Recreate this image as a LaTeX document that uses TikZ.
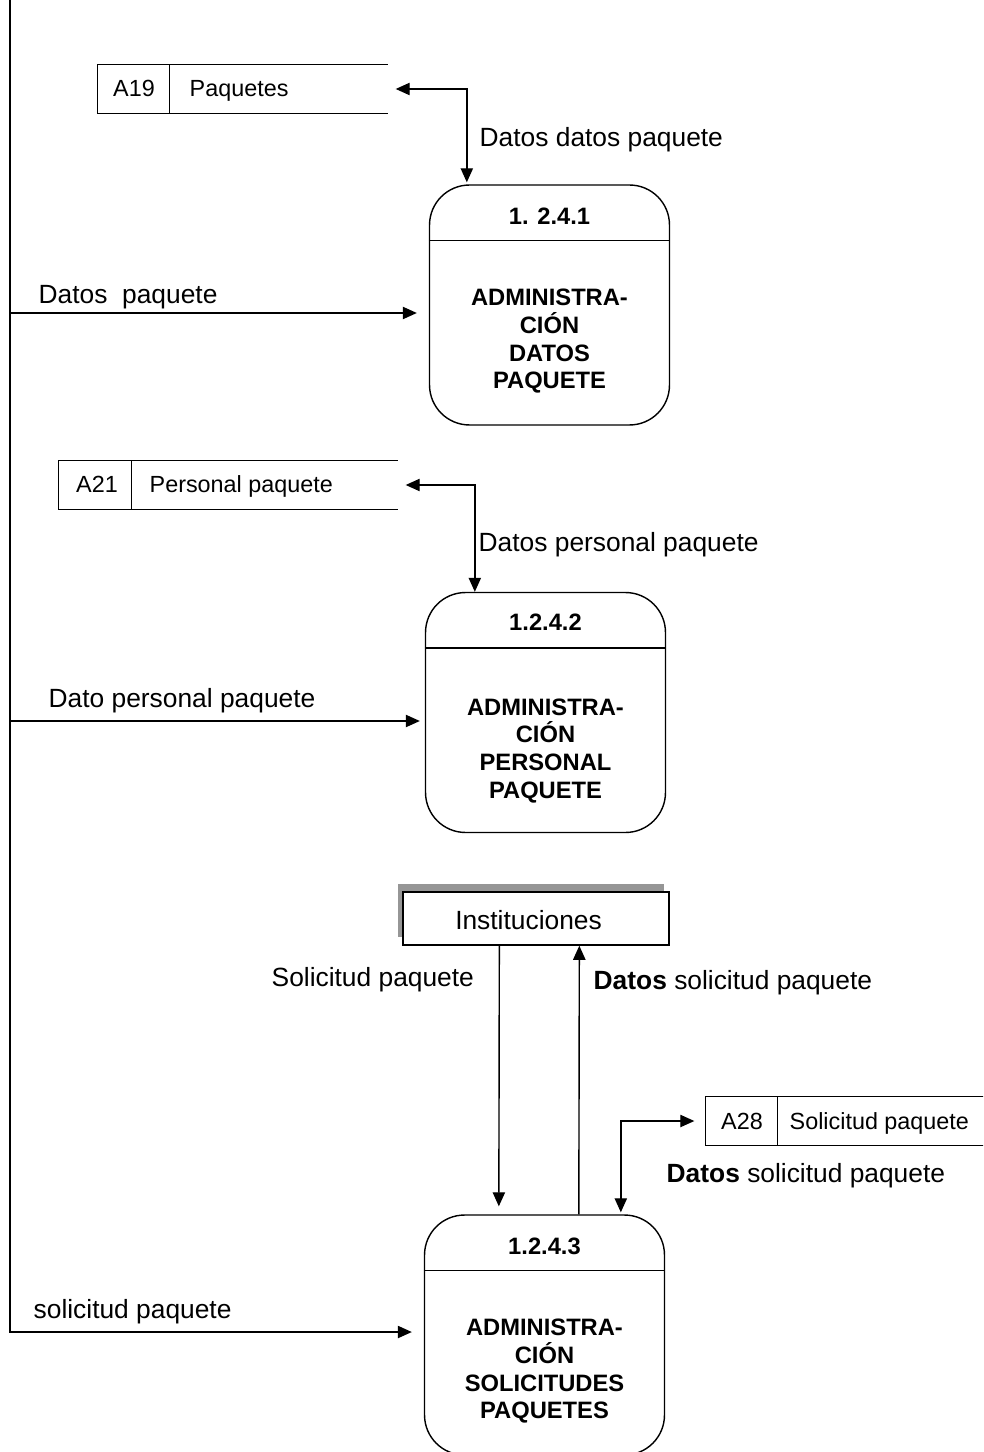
\documentclass[tikz,border=0pt]{standalone}
\usepackage{fontspec}
\setmainfont{Liberation Sans}
\usetikzlibrary{arrows.meta,calc,shadows}
\definecolor{shadegray}{RGB}{150,150,150}
\begin{document}
\begin{tikzpicture}[x=0.02cm,y=-0.02cm,
  line width=0.8pt,
  tip/.style={-{Triangle[length=8pt,width=7pt]}},
  tips/.style={{Triangle[length=8pt,width=7pt]}-{Triangle[length=8pt,width=7pt]}},
  proc/.style={draw,rounded corners=0.8cm,minimum width=4.8cm,minimum height=4.8cm,inner sep=0pt},
  ptitle/.style={font=\fontsize{13.5}{15.7}\selectfont\bfseries,inner sep=0pt},
  pbody/.style={font=\fontsize{13.5}{15.7}\selectfont\bfseries,align=center,inner sep=0pt},
  lbl/.style={font=\fontsize{15}{18}\selectfont,anchor=base west,inner sep=0pt},
  store/.style={minimum height=0.96cm,inner sep=0pt},
  stxt/.style={font=\fontsize{13.3}{16}\selectfont,inner sep=0pt},
  entity/.style={draw,fill=white,minimum width=5.32cm,minimum height=1.06cm,inner sep=0pt,
    general shadow={shadow xshift=-0.1cm,shadow yshift=0.16cm,fill=shadegray}},
]
\useasboundingbox (0,0) rectangle (983,1452);
\clip (0,0) rectangle (983,1452);

% ---------- processes ----------
\node[proc] (p1) at (549.5,305) {};
\draw ($(p1.north west)+(0,56)$) -- ($(p1.north east)+(0,56)$);
\node[ptitle] (t1) at ($(p1.north)+(0,32)$) {1. 2.4.1};
\node[pbody] (b1) at ($(p1.north)+(0,157)$) {ADMINISTRA-\\CIÓN\\DATOS\\PAQUETE};

\node[proc] (p2) at (545.5,712.5) {};
\draw ($(p2.north west)+(0,56)$) -- ($(p2.north east)+(0,56)$);
\node[ptitle] (t2) at ($(p2.north)+(0,30)$) {1.2.4.2};
\node[pbody] (b2) at ($(p2.north)+(0,159)$) {ADMINISTRA-\\CIÓN\\PERSONAL\\PAQUETE};

\node[proc] (p3) at (544.5,1335) {};
\draw ($(p3.north west)+(0,56)$) -- ($(p3.north east)+(0,56)$);
\node[ptitle] (t3) at ($(p3.north)+(0,32)$) {1.2.4.3};
\node[pbody] (b3) at ($(p3.north)+(0,157)$) {ADMINISTRA-\\CIÓN\\SOLICITUDES\\PAQUETES};

% ---------- data stores ----------
\node[store,minimum width=5.78cm] (s19) at (242.5,89) {};
\draw (s19.north east) -- (s19.north west) -- (s19.south west) -- (s19.south east);
\draw ($(s19.north west)+(72,0)$) -- ($(s19.south west)+(72,0)$);
\node[stxt,anchor=base] (s19id) at (134,97) {A19};
\node[stxt,anchor=base west] (s19n) at (189,97) {Paquetes};

\node[store,minimum width=6.76cm] (s21) at (228,485) {};
\draw (s21.north east) -- (s21.north west) -- (s21.south west) -- (s21.south east);
\draw ($(s21.north west)+(73,0)$) -- ($(s21.south west)+(73,0)$);
\node[stxt,anchor=base] (s21id) at (97,493) {A21};
\node[stxt,anchor=base west] (s21n) at (149,493) {Personal paquete};

\node[store,minimum width=5.7cm] (s28) at (848.5,1121) {};
\draw (s28.north east) -- (s28.north west) -- (s28.south west) -- (s28.south east);
\draw ($(s28.north west)+(72,0)$) -- ($(s28.south west)+(72,0)$);
\node[stxt,anchor=base] (s28id) at (742,1129) {A28};
\node[stxt,anchor=base west] (s28n) at (789,1129) {Solicitud paquete};

% ---------- external entity ----------
\node[entity] (inst) at (536,918.5) {};
\node[font=\fontsize{15}{18}\selectfont,inner sep=0pt,anchor=base] (instt) at (528.5,929) {Instituciones};

% ---------- left boundary flows ----------
\coordinate (ltop) at (10,0);
\coordinate (l1) at (10,313);
\coordinate (l2) at (10,721);
\draw[tip,shorten >=0.24cm] (ltop) |- ($(p3.west)+(0,-3)$);
\draw[tip,shorten >=0.24cm] (l1) -- (p1.west |- l1);
\draw[tip,shorten >=0.1cm] (l2) -- (p2.west |- l2);

\node[lbl] (f1) at (38,304) {Datos\ \ paquete};
\node[lbl] (f2) at (48,707) {Dato personal paquete};
\node[lbl] (f3) at (33,1318) {solicitud paquete};

% ---------- store flows ----------
\draw[tips,shorten <=0.16cm,shorten >=0.04cm] (s19.east) -| ($(p1.north west)+(38,0)$);
\node[lbl] (f4) at (479,147) {Datos datos paquete};

\draw[tips,shorten <=0.16cm] (s21.east) -| ($(p2.north west)+(50,0)$);
\node[lbl] (f5) at (478,551) {Datos personal paquete};

\draw[tips,shorten <=0.22cm,shorten >=0.04cm] (s28.west) -| ($(p3.north west)+(197,0)$);
\node[lbl] (f6) at (666,1182) {\textbf{Datos} solicitud paquete};

% ---------- entity flows ----------
\draw[tip,shorten >=0.16cm] ($(inst.south west)+(97,0)$) -- ($(p3.north west)+(75,0)$);
\node[lbl] (f7) at (271,986) {Solicitud paquete};
\draw[tip] ($(p3.north west)+(155,0)$) -- ($(inst.south west)+(177,0)$);
\node[lbl] (f8) at (593,989) {\textbf{Datos} solicitud paquete};
\end{tikzpicture}
\end{document}
